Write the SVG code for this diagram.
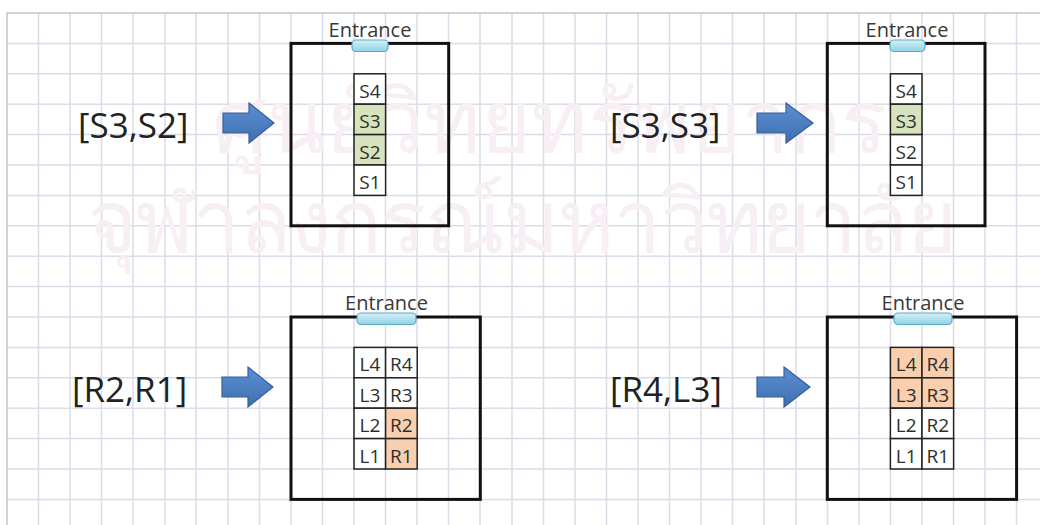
<svg xmlns="http://www.w3.org/2000/svg" width="1040" height="525" viewBox="0 0 1040 525">
<defs>
<linearGradient id="ag" x1="0" y1="0" x2="0" y2="1"><stop offset="0" stop-color="#5b8fd2"/><stop offset="1" stop-color="#3f6fb0"/></linearGradient>
<linearGradient id="tg" x1="0" y1="0" x2="0" y2="1"><stop offset="0" stop-color="#d6f0f8"/><stop offset="1" stop-color="#8fd2e6"/></linearGradient>
<style>
.grid{stroke:#dcdbe8;stroke-width:1.5;fill:none}
.gb{stroke:#c4c4cc;stroke-width:1.5;fill:none}
.wm{font-family:"Noto Sans","DejaVu Sans",sans-serif;font-size:86px;fill:#f8eff4}
.frame{fill:none;stroke:#111;stroke-width:3}
.tab{fill:url(#tg);stroke:#5eaac8;stroke-width:1.2}
.ent{font-family:"Open Sans",sans-serif;font-size:20px;fill:#3a3838;text-anchor:middle}
.c{fill:#fff;stroke:#222;stroke-width:1.5}
.g{fill:#d6e3bc;stroke:#222;stroke-width:1.5}
.o{fill:#f9cfae;stroke:#222;stroke-width:1.5}
.ct{font-family:"Open Sans",sans-serif;font-size:19px;fill:#2e2e2e;text-anchor:middle}
.lbl{font-family:"Open Sans",sans-serif;font-size:35px;fill:#222}
.arr{fill:url(#ag);stroke:#365f99;stroke-width:1.2}
</style>
</defs>
<rect width="1040" height="525" fill="#fff"/>
<g id="grid">
<path class="grid" d="M38.5 13V525M70 13V525M101.5 13V525M133 13V525M165 13V525M196 13V525M228 13V525M259.5 13V525M291 13V525M322.5 13V525M354 13V525M385.5 13V525M417 13V525M448.5 13V525M480 13V525M512 13V525M543.5 13V525M575 13V525M606.5 13V525M638 13V525M669.5 13V525M701 13V525M732.5 13V525M764 13V525M796 13V525M827.5 13V525M859 13V525M890.5 13V525M922 13V525M953.5 13V525M985 13V525M1016.5 13V525"/>
<path class="grid" d="M7 43.4H1040M7 73.8H1040M7 104.2H1040M7 134.6H1040M7 165H1040M7 195.4H1040M7 225.8H1040M7 256.2H1040M7 286.6H1040M7 317H1040M7 347.4H1040M7 377.8H1040M7 408.2H1040M7 438.6H1040M7 469H1040M7 499.4H1040"/>
<path class="gb" d="M7 525V13H1040"/>
</g>
<g id="watermark">
<text class="wm" x="212" y="152">ศูนย์วิทยทรัพยากร</text>
<text class="wm" x="85" y="252" textLength="870">จุฬาลงกรณ์มหาวิทยาลัย</text>
</g>
<g id="labels">
<text class="lbl" x="78" y="138">[S3,S2]</text>
<text class="lbl" x="610" y="138">[S3,S3]</text>
<text class="lbl" x="72" y="402">[R2,R1]</text>
<text class="lbl" x="610" y="402">[R4,L3]</text>
</g>
<g id="connectors">
<path class="arr" d="M223 113H249V103L274 123L249 143V133H223Z"/>
<path class="arr" d="M757 113H786V103L813 123L786 143V133H757Z"/>
<path class="arr" d="M222 377H248V367L273 387L248 407V397H222Z"/>
<path class="arr" d="M757 377H784V367L810 387L784 407V397H757Z"/>
</g>
<g id="box1">
<rect class="frame" x="291" y="43.4" width="157.7" height="182.4"/>
<rect class="tab" x="352" y="40" width="36" height="11.5" rx="4"/>
<text class="ent" x="370" y="37">Entrance</text>
<rect class="c" x="354" y="73.8" width="31.6" height="30.4"/>
<rect class="g" x="354" y="104.2" width="31.6" height="30.4"/>
<rect class="g" x="354" y="134.6" width="31.6" height="30.4"/>
<rect class="c" x="354" y="165" width="31.6" height="30.4"/>
<text class="ct" x="370" y="97.5">S4</text>
<text class="ct" x="370" y="128">S3</text>
<text class="ct" x="370" y="158.5">S2</text>
<text class="ct" x="370" y="189">S1</text>
</g>
<g id="box2">
<rect class="frame" x="827.3" y="43.4" width="157.7" height="182.4"/>
<rect class="tab" x="890" y="40" width="35" height="11.5" rx="4"/>
<text class="ent" x="907" y="37">Entrance</text>
<rect class="c" x="890.4" y="73.8" width="31.6" height="30.4"/>
<rect class="g" x="890.4" y="104.2" width="31.6" height="30.4"/>
<rect class="c" x="890.4" y="134.6" width="31.6" height="30.4"/>
<rect class="c" x="890.4" y="165" width="31.6" height="30.4"/>
<text class="ct" x="906.2" y="97.5">S4</text>
<text class="ct" x="906.2" y="128">S3</text>
<text class="ct" x="906.2" y="158.5">S2</text>
<text class="ct" x="906.2" y="189">S1</text>
</g>
<g id="box3">
<rect class="frame" x="291" y="317" width="189.3" height="182.4"/>
<rect class="tab" x="357" y="313" width="59" height="11.5" rx="4"/>
<text class="ent" x="386.5" y="310">Entrance</text>
<rect class="c" x="354" y="347.4" width="31.6" height="30.4"/>
<rect class="c" x="354" y="377.8" width="31.6" height="30.4"/>
<rect class="c" x="354" y="408.2" width="31.6" height="30.4"/>
<rect class="c" x="354" y="438.6" width="31.6" height="30.4"/>
<rect class="c" x="385.6" y="347.4" width="31.6" height="30.4"/>
<rect class="c" x="385.6" y="377.8" width="31.6" height="30.4"/>
<rect class="o" x="385.6" y="408.2" width="31.6" height="30.4"/>
<rect class="o" x="385.6" y="438.6" width="31.6" height="30.4"/>
<text class="ct" x="370" y="371">L4</text>
<text class="ct" x="370" y="401.5">L3</text>
<text class="ct" x="370" y="432">L2</text>
<text class="ct" x="370" y="462.5">L1</text>
<text class="ct" x="401.4" y="371">R4</text>
<text class="ct" x="401.4" y="401.5">R3</text>
<text class="ct" x="401.4" y="432">R2</text>
<text class="ct" x="401.4" y="462.5">R1</text>
</g>
<g id="box4">
<rect class="frame" x="827.3" y="317" width="189.3" height="182.4"/>
<rect class="tab" x="894" y="313" width="58" height="11.5" rx="4"/>
<text class="ent" x="923" y="310">Entrance</text>
<rect class="o" x="890.4" y="347.4" width="31.6" height="30.4"/>
<rect class="o" x="890.4" y="377.8" width="31.6" height="30.4"/>
<rect class="c" x="890.4" y="408.2" width="31.6" height="30.4"/>
<rect class="c" x="890.4" y="438.6" width="31.6" height="30.4"/>
<rect class="o" x="922" y="347.4" width="31.6" height="30.4"/>
<rect class="o" x="922" y="377.8" width="31.6" height="30.4"/>
<rect class="c" x="922" y="408.2" width="31.6" height="30.4"/>
<rect class="c" x="922" y="438.6" width="31.6" height="30.4"/>
<text class="ct" x="906.2" y="371">L4</text>
<text class="ct" x="906.2" y="401.5">L3</text>
<text class="ct" x="906.2" y="432">L2</text>
<text class="ct" x="906.2" y="462.5">L1</text>
<text class="ct" x="937.8" y="371">R4</text>
<text class="ct" x="937.8" y="401.5">R3</text>
<text class="ct" x="937.8" y="432">R2</text>
<text class="ct" x="937.8" y="462.5">R1</text>
</g>
</svg>
